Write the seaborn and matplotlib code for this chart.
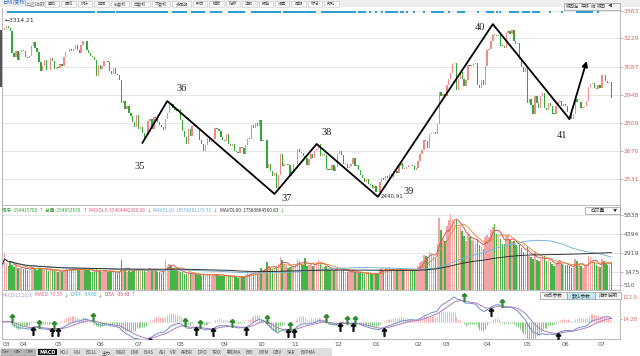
import numpy as np
import pandas as pd
import matplotlib
matplotlib.use("Agg")
import matplotlib.pyplot as plt
from matplotlib.patches import Rectangle
import seaborn as sns

# ---------------- data ----------------
c_2018_03 = [3269, 3279, 3290, 3281, 3263, 3153, 3133, 3166, 3122, 3160, 3168]
c_2018_04 = [3163, 3136, 3131, 3138, 3190, 3208, 3180, 3159, 3110, 3067, 3091, 3118, 3071, 3068, 3128, 3117, 3075, 3082]
c_2018_05 = [3081, 3100, 3091, 3136, 3161, 3159, 3174, 3163, 3174, 3192, 3170, 3155, 3193, 3214, 3213, 3169, 3154, 3141, 3135, 3120, 3041, 3095]
c_2018_06 = [3075, 3092, 3114, 3115, 3109, 3067, 3052, 3079, 3050, 3044, 3022, 2908, 2915, 2875, 2889, 2859, 2844, 2813, 2786, 2847]
c_2018_07 = [2775, 2786, 2759, 2733, 2747, 2815, 2827, 2777, 2837, 2831, 2814, 2798, 2787, 2773, 2829, 2859, 2905, 2903, 2882, 2873, 2869, 2876]
c_2018_08 = [2824, 2768, 2740, 2705, 2779, 2744, 2794, 2795, 2785, 2781, 2723, 2705, 2669, 2698, 2733, 2714, 2725, 2729, 2781, 2777, 2769, 2737, 2725]
c_2018_09 = [2720, 2750, 2704, 2691, 2702, 2669, 2664, 2656, 2686, 2681, 2651, 2699, 2730, 2729, 2797, 2781, 2806, 2792, 2821]
c_2018_10 = [2716, 2721, 2725, 2583, 2606, 2568, 2546, 2561, 2486, 2550, 2655, 2594, 2603, 2603, 2598, 2542, 2568, 2603]
c_2018_11 = [2606, 2676, 2665, 2659, 2641, 2635, 2598, 2630, 2654, 2632, 2668, 2679, 2703, 2645, 2651, 2646, 2579, 2575, 2574, 2601, 2567, 2588]
c_2018_12 = [2654, 2666, 2649, 2605, 2605, 2584, 2594, 2602, 2634, 2593, 2597, 2576, 2549, 2536, 2516, 2527, 2505, 2498, 2483, 2494]
c_2019_01 = [2465, 2464, 2514, 2533, 2526, 2544, 2535, 2553, 2535, 2570, 2570, 2560, 2596, 2610, 2580, 2581, 2591, 2601, 2597, 2594, 2575, 2585]
c_2019_02 = [2618, 2653, 2671, 2721, 2719, 2682, 2754, 2755, 2761, 2751, 2804, 2961, 2941, 2953, 2941]
c_2019_03 = [2994, 3027, 3054, 3102, 3106, 2969, 3026, 3061, 3027, 2990, 3022, 3096, 3090, 3091, 3101, 3104, 2997, 2982, 3022, 2995, 3091]
c_2019_04 = [3171, 3176, 3216, 3246, 3245, 3240, 3242, 3190, 3189, 3177, 3254, 3263, 3251, 3271, 3216, 3198, 3202, 3124, 3086, 3062, 3078]
c_2019_05 = [2907, 2926, 2894, 2850, 2940, 2904, 2884, 2939, 2955, 2882, 2870, 2905, 2892, 2853, 2852, 2893, 2910, 2914, 2889, 2899]
c_2019_06 = [2890, 2862, 2861, 2827, 2852, 2925, 2909, 2910, 2882, 2887, 2890, 2917, 2987, 3001, 3008, 2982, 2976, 2996, 2979]
c_2019_07 = [3044, 3043, 3015, 3005, 3011, 2933]
first_open = 3262

v_2018_03 = [2050, 2900, 2150, 1950, 2300, 2000, 1850, 2000, 1750, 1800, 1750]
v_2018_04 = [1700, 1800, 1650, 1600, 1900, 1850, 1700, 1650, 1750, 1800, 1700, 1650, 1600, 1550, 1750, 1650, 1600, 1550]
v_2018_05 = [1500, 1550, 1500, 1650, 1700, 1650, 1700, 1600, 1650, 1750, 1700, 1600, 1650, 1800, 1750, 1650, 1600, 1500, 1450, 1450, 1700, 1650]
v_2018_06 = [1550, 1500, 1600, 1550, 1500, 1550, 1450, 1500, 1450, 1400, 1450, 2350, 1700, 1600, 1500, 1550, 1500, 1600, 1650, 1700]
v_2018_07 = [1700, 1600, 1550, 1600, 1500, 1700, 1750, 1600, 1700, 1650, 1500, 1450, 1400, 1450, 2350, 1900, 2100, 2000, 1750, 1650, 1600, 1550]
v_2018_08 = [1500, 1450, 1350, 1300, 1400, 1350, 1300, 1350, 1300, 1250, 1250, 1200, 1300, 1200, 1350, 1250, 1200, 1150, 1350, 1300, 1250, 1200, 1150]
v_2018_09 = [1150, 1200, 1150, 1100, 1100, 1150, 1100, 1050, 1150, 1100, 1100, 1250, 1400, 1300, 1500, 1400, 1450, 1350, 1400]
v_2018_10 = [1800, 1650, 1700, 2200, 1900, 1800, 1700, 1800, 1900, 2050, 2600, 2350, 2100, 1900, 1800, 1850, 1950, 1900]
v_2018_11 = [2000, 2450, 2300, 2100, 2000, 2550, 1900, 2000, 2150, 1950, 2100, 2200, 2400, 2150, 1950, 1850, 1900, 1700, 1650, 1750, 1650, 1700]
v_2018_12 = [1800, 1750, 1650, 1600, 1500, 1450, 1450, 1500, 1550, 1450, 1400, 1400, 1450, 1400, 1350, 1300, 1350, 1300, 1300, 1350]
v_2019_01 = [1400, 1350, 1700, 1750, 1650, 1800, 1650, 1600, 1550, 1700, 1650, 1600, 1750, 1800, 1650, 1600, 1650, 1700, 1600, 1650, 1550, 1600]
v_2019_02 = [1900, 2200, 2300, 2800, 2700, 2600, 3000, 2900, 2700, 2600, 3600, 5600, 4700, 4000, 3800]
v_2019_03 = [5000, 5400, 5850, 5500, 5300, 5400, 4900, 5000, 4600, 4200, 3800, 4400, 4100, 3900, 3800, 3700, 4000, 3500, 3400, 3200, 4100]
v_2019_04 = [4300, 4100, 4700, 4900, 5100, 4400, 4100, 4000, 3600, 3600, 4200, 4300, 3900, 3800, 3800, 3500, 3400, 3500, 3300, 3000, 2800]
v_2019_05 = [3400, 2700, 2600, 2500, 3000, 2400, 2300, 2500, 2600, 2700, 2300, 2400, 2200, 2100, 1900, 2100, 2300, 2400, 2100, 2000]
v_2019_06 = [2000, 2000, 1900, 1800, 1800, 2500, 2300, 2000, 1900, 1800, 1900, 2000, 2700, 2600, 2300, 2200, 2000, 1900, 1850]
v_2019_07 = [2500, 2300, 2100, 2000, 2000, 2200]

month_labels = ['03', '04', '05', '06', '07', '08', '09', '10', '11', '12',
                '01', '02', '03', '04', '05', '06', '07']

price_ticks = [3363, 3229, 3087, 2948, 2809, 2670, 2531]
vol_ticks = [5838, 4394, 2919, 1475, 510]
macd_ticks = [122.5, 14.28]

pivot_labels = ['35', '36', '37', '38', '39', '40', '41']
pivot_idx = [73, 86, 142, 164, 196, 256, 296]
pivot_price = [2708, 2916, 2455, 2703, 2440.91, 3298, 2827]
arrow_end_idx = 305
arrow_end_price = 3115

signal_runs = [(3, 11), (12, 28), (29, 37), (38, 47), (48, 48), (50, 58), (60, 86), (89, 95),
               (96, 96), (99, 105), (109, 114), (118, 125), (126, 126), (130, 145), (147, 152),
               (153, 163), (167, 174), (175, 184), (186, 189), (192, 192), (195, 195), (198, 198),
               (200, 206), (208, 208), (209, 209), (211, 211), (215, 215), (220, 220), (224, 229),
               (230, 230), (233, 233), (238, 241), (248, 248), (253, 256), (258, 258), (260, 260),
               (265, 269), (272, 275), (277, 280), (286, 286), (292, 292), (300, 308), (311, 311)]

tab_names = ['KDJ', 'RSI', 'BOLL', '主力', 'W&R', 'DMI', 'BIAS', 'ASI', 'VR', 'ARBR', 'DPO',
             'TRIX', '新DMA', 'BBI', 'MTM', 'OBV', 'SAR', 'EXPMA']

# ---------------- build ----------------
sns.set_theme(style="white")
plt.rcParams['font.family'] = ['Noto Sans CJK SC', 'DejaVu Sans']
plt.rcParams['axes.unicode_minus'] = False

c_months = [c_2018_03, c_2018_04, c_2018_05, c_2018_06, c_2018_07, c_2018_08, c_2018_09,
            c_2018_10, c_2018_11, c_2018_12, c_2019_01, c_2019_02, c_2019_03, c_2019_04,
            c_2019_05, c_2019_06, c_2019_07]
v_months = [v_2018_03, v_2018_04, v_2018_05, v_2018_06, v_2018_07, v_2018_08, v_2018_09,
            v_2018_10, v_2018_11, v_2018_12, v_2019_01, v_2019_02, v_2019_03, v_2019_04,
            v_2019_05, v_2019_06, v_2019_07]
closes = [c for m in c_months for c in m]
vols = [v for m in v_months for v in m]
month_start = np.cumsum([0] + [len(m) for m in c_months[:-1]])

n = len(closes)
df = pd.DataFrame({'i': np.arange(n), 'close': closes, 'vol': vols})
df['open'] = [first_open] + closes[:-1]
df['up'] = df['close'] >= df['open']

UP, DN = '#ef8a8a', '#35a535'
VUP, VDN = '#f3a3a3', '#45b545'

W, H = 640, 356
fig = plt.figure(figsize=(W / 100, H / 100), dpi=100)
fig.patch.set_facecolor('white')
renderer = fig.canvas.get_renderer()


def box(x0, y0, x1, y1):
    return [x0 / W, 1 - y1 / H, (x1 - x0) / W, (y1 - y0) / H]


def ftext(x, y, s, **kw):
    return fig.text(x / W, 1 - y / H, s, va='center', **kw)


def seq_text(x, y, parts, fontsize, gap=1.2):
    for t, c in parts:
        tx = ftext(x, y, t, fontsize=fontsize, color=c)
        x += tx.get_window_extent(renderer).width + gap
    return x


XL = (-0.3, 322.4)
ax_p = fig.add_axes(box(2, 8, 620, 205))
ax_v = fig.add_axes(box(2, 206, 620, 290))
ax_m = fig.add_axes(box(2, 292, 620, 339))

for ax in (ax_p, ax_v, ax_m):
    ax.set_xlim(*XL)
    ax.set_facecolor('white')
    for s in ax.spines.values():
        s.set_color('#bdbdbd')
        s.set_linewidth(0.8)
    ax.spines['top'].set_visible(False)
    ax.yaxis.tick_right()
    ax.tick_params(axis='y', length=2, width=0.5, pad=0.8, colors='#999999')
    ax.grid(False)

# price panel
ax_p.set_ylim(2400, 3378)
for t in price_ticks:
    ax_p.axhline(t, color='#e6e6e6', lw=0.7, zorder=0)
lo = np.minimum(df['open'], df['close'])
hgt = np.maximum((df['close'] - df['open']).abs(), 3)
ax_p.bar(df['i'], hgt, bottom=lo, width=0.7, color=np.where(df['up'], UP, DN), linewidth=0, zorder=2)
ax_p.set_yticks(price_ticks)
ax_p.set_yticklabels([str(t) for t in price_ticks], fontsize=4.4, color='#e06666', family='DejaVu Sans')
ax_p.set_xticks([])

sig_x = [i for a, b in signal_runs for i in range(a, b + 1)]
ax_p.scatter(sig_x, [3356] * len(sig_x), marker='s', s=1.3, color='#2b9fd4', linewidths=0, zorder=3)

ax_p.plot(pivot_idx, pivot_price, color='black', lw=1.3, zorder=4)
ax_p.annotate('', xy=(arrow_end_idx, arrow_end_price), xytext=(pivot_idx[-1], pivot_price[-1]),
              arrowprops=dict(arrowstyle='-|>', lw=1.3, color='black', mutation_scale=8,
                              shrinkA=0, shrinkB=0), zorder=4)
offs = [(-3, -24), (14, 13), (12, -5), (10, 11), (31, 5), (-13, -3), (-8, -17)]
for lbl, xi, pv, (dx, dy) in zip(pivot_labels, pivot_idx, pivot_price, offs):
    ax_p.annotate(lbl, (xi, pv), xytext=(dx, dy), textcoords='offset pixels', ha='center',
                  va='center', fontsize=7.5, family='Liberation Serif', color='#222222')
ax_p.annotate('←3314.21', (0.5, 3314.21), xytext=(1, 0), textcoords='offset pixels', ha='left',
              va='center', fontsize=4.3, color='#333333', family=['DejaVu Sans'])
ax_p.annotate('2440.91', (pivot_idx[4], 2440.91), xytext=(3, 0), textcoords='offset pixels',
              ha='left', va='center', fontsize=4.0, color='#333333', family=['DejaVu Sans'])

# volume panel
ax_v.set_ylim(107, 6491)
for t in vol_ticks:
    ax_v.axhline(t, color='#e6e6e6', lw=0.7, zorder=0)
ax_v.bar(df['i'], df['vol'], width=0.78, color=np.where(df['up'], VUP, VDN), linewidth=0, zorder=2)
sns.lineplot(x=df['i'], y=df['vol'].rolling(5).mean(), ax=ax_v, color='#d9534f', lw=0.7, zorder=3)
sns.lineplot(x=df['i'], y=df['vol'].rolling(10).mean(), ax=ax_v, color='#d98b3a', lw=0.6, zorder=3)
sns.lineplot(x=df['i'], y=df['vol'].rolling(60, min_periods=1).mean(), ax=ax_v, color='#7db7d8', lw=0.7, zorder=3)
sns.lineplot(x=df['i'], y=df['vol'].rolling(120, min_periods=1).mean(), ax=ax_v, color='#333333', lw=0.7, zorder=3)
ax_v.set_yticks(vol_ticks)
ax_v.set_yticklabels([str(t) for t in vol_ticks], fontsize=4.4, color='#555555', family='DejaVu Sans')
ax_v.set_xticks([])
ax_v.set_xlabel('')
ax_v.set_ylabel('')

# MACD panel
s = df['close']
diff = s.ewm(span=12, adjust=False).mean() - s.ewm(span=26, adjust=False).mean()
dea = diff.ewm(span=9, adjust=False).mean()
hist = 2 * (diff - dea)
ax_m.set_ylim(-84, 147)
ax_m.axhline(0, color='#eeeeee', lw=0.5, zorder=0)
ax_m.vlines(df['i'], 0, hist, colors=np.where(hist >= 0, '#f29b9b', '#5cb85c'), lw=0.55, zorder=2)
sns.lineplot(x=df['i'], y=diff, ax=ax_m, color='#6f8fcf', lw=0.7, zorder=3)
sns.lineplot(x=df['i'], y=dea, ax=ax_m, color='#b07ab8', lw=0.7, zorder=3)
golden = (diff.shift(1) < dea.shift(1)) & (diff >= dea)
death = (diff.shift(1) > dea.shift(1)) & (diff <= dea)
ax_m.scatter(df['i'][golden], dea[golden] - 18, marker=r'$\uparrow$', s=30, color='#111111', zorder=4)
ax_m.scatter(df['i'][death], dea[death] + 18, marker=r'$\uparrow$', s=30, color='#2e8b2e', zorder=4)
ax_m.set_yticks(macd_ticks)
ax_m.set_yticklabels(['122.5', '14.28'], fontsize=3.8, color='#e06666', family='DejaVu Sans')
ax_m.tick_params(axis='y', length=1.5, pad=0.5)
ax_m.set_xticks(month_start)
ax_m.set_xticklabels(month_labels, fontsize=4.4, color='#555555', family='DejaVu Sans')
ax_m.tick_params(axis='x', length=2, width=0.5, pad=0.5, colors='#555555')
ax_m.get_xticklabels()[0].set_ha('left')
ax_m.set_xlabel('')
ax_m.set_ylabel('')

# ---------------- chrome ----------------
fig.patches.append(Rectangle((0, 1 - 7 / H), 1, 7 / H, transform=fig.transFigure,
                             facecolor='#eeeeee', edgecolor='none', zorder=0))
fig.patches.append(Rectangle((0, 1 - 87 / H), 1.5 / W, 57 / H, transform=fig.transFigure,
                             facecolor='#555555', edgecolor='none'))
ftext(2, 3.5, '日线(复权)', fontsize=3.8, color='#2a6fc0')
ftext(25, 3.5, '上证指数', fontsize=3.8, color='#888888')
btns = ['叠加', '画线', '统计', '区间', '前复权', '后复权', '不复权', '多周期', '形态', '模板',
        '指标', '选股', '预警', '设置', '周期', '标记', '帮助']
bx = 45
for b in btns:
    w = 6 + 4.2 * len(b)
    fig.patches.append(Rectangle((bx / W, 1 - 7 / H), w / W, 6 / H, transform=fig.transFigure,
                                 facecolor='#f7f7f7', edgecolor='#c8c8c8', lw=0.4))
    ftext(bx + w / 2, 3.8, b, fontsize=3.0, color='#555555', ha='center')
    bx += w + 2
fig.patches.append(Rectangle((564 / W, 1 - 10 / H), 56 / W, 7 / H, transform=fig.transFigure,
                             facecolor='#f4f4f4', edgecolor='#999999', lw=0.5))
seq_text(566, 6.5, [('移回左', '#444444'), ('平移', '#444444'), ('缩', '#444444'),
                    ('移回', '#444444'), ('◀', '#444444')], 3.2, gap=1.6)

# volume header
seq_text(2, 210.5, [('现手: 154415700', '#3a9a3a'), ('↑', '#d9534f'),
                    ('总量: 154953576', '#3a9a3a'), ('↑', '#d9534f'),
                    ('MAVOL5: 15454442300.00', '#e0567f'), ('↓', '#3a9a3a'),
                    ('MAVOL10: 18558201179.53', '#6fb3d6'), ('↓', '#3a9a3a'),
                    ('MAVOL60: 17583864560.83', '#333333'), ('↓', '#3a9a3a')], 3.4, gap=1.8)
fig.patches.append(Rectangle((585 / W, 1 - 214 / H), 35 / W, 7 / H, transform=fig.transFigure,
                             facecolor='white', edgecolor='#999999', lw=0.5))
ftext(598, 210.5, '成交量', fontsize=3.4, color='#333333', ha='center')
ftext(613, 210.5, '▼', fontsize=3, color='#333333')

# MACD header
seq_text(2, 295, [('MACD(12,26,9)', '#b39bc8'), ('MACD: +3.55', '#e0567f'), ('↓', '#3a9a3a'),
                  ('DIFF: -34.60', '#3fa6c6'), ('↓', '#3a9a3a'), ('DEA: -36.43', '#c0406a'),
                  ('↑', '#d9534f')], 3.4, gap=1.8)
for t, x0, x1, fc in [('修改参数', 540, 567, '#f5f5f5'), ('默认参数', 567, 595, '#bfeaf5'),
                      ('指标说明', 595, 621, '#f5f5f5')]:
    fig.patches.append(Rectangle((x0 / W, 1 - 299 / H), (x1 - x0) / W, 7 / H,
                                 transform=fig.transFigure, facecolor=fc, edgecolor='#888888', lw=0.4))
    ftext((x0 + x1) / 2, 295.5, t, fontsize=3.4, color='#333333', ha='center')

# bottom tab bar
fig.patches.append(Rectangle((0, 0), 332 / W, 8.5 / H, transform=fig.transFigure,
                             facecolor='#dedede', edgecolor='none'))
for x0, x1 in [(1, 12), (12, 24), (24, 36)]:
    fig.patches.append(Rectangle((x0 / W, 0.8 / H), (x1 - x0 - 1) / W, 6.5 / H, transform=fig.transFigure,
                                 facecolor='#b9b9b9', edgecolor='#999999', lw=0.4))
for t, x in [('指标', 6), ('模板', 17.5), ('切换', 29.5)]:
    ftext(x, 352.2, t, fontsize=2.8, color='#666666', ha='center')
fig.patches.append(Rectangle((38 / W, 0.8 / H), 19 / W, 6.5 / H, transform=fig.transFigure,
                             facecolor='#111111', edgecolor='none'))
ftext(47.5, 352.2, 'MACD', fontsize=3.5, color='white', ha='center', fontweight='bold',
      family='DejaVu Sans')
seq_text(60, 352.4, [(t, '#444444') for t in tab_names], 3.3, gap=4.8)

fig.savefig('out.png', dpi=100, facecolor='white')
